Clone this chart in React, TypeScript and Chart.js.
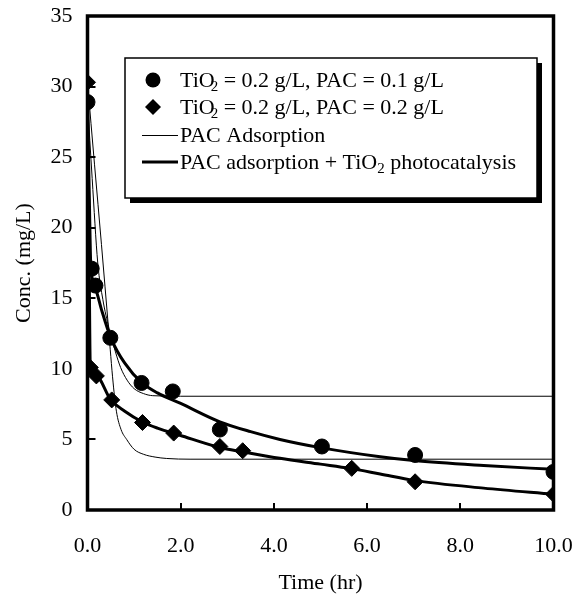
import React, { useEffect, useRef } from "react";
import { Chart, registerables } from "chart.js";

Chart.register(...registerables);

// ---- data ----
const circleTime = [0, 0.09, 0.17, 0.49, 1.16, 1.83, 2.84, 5.03, 7.03, 10.0];
const circleConc = [28.9, 17.1, 15.9, 12.2, 9.0, 8.4, 5.7, 4.5, 3.9, 2.7];

const diamondTime = [0, 0.06, 0.19, 0.52, 1.18, 1.85, 2.84, 3.33, 5.67, 7.03, 10.0];
const diamondConc = [30.3, 10.1, 9.5, 7.8, 6.2, 5.45, 4.5, 4.2, 2.95, 2.0, 1.12];

// PAC adsorption (thin) curves
const adsA_Time = [0, 0.1, 0.22, 0.33, 0.46, 0.6, 0.71, 0.85, 1.0, 1.2, 1.4, 2.0, 10.0];
const adsA_Conc = [28.9, 23.5, 17.5, 14.9, 12.9, 11.2, 10.1, 9.2, 8.6, 8.25, 8.1, 8.06, 8.06];

const adsB_Time = [0, 0.15, 0.3, 0.45, 0.55, 0.62, 0.72, 0.84, 1.0, 1.2, 1.45, 1.7, 2.2, 10.0];
const adsB_Conc = [30.3, 24.5, 18.8, 12.9, 9.0, 7.0, 5.7, 5.0, 4.3, 3.95, 3.75, 3.65, 3.6, 3.6];

// PAC adsorption + TiO2 photocatalysis (thick) curves
const photoA_Time = [0, 0.04, 0.07, 0.18, 0.3, 0.5, 0.8, 1.17, 1.5, 2.0, 2.84, 3.5, 4.13, 5.0, 6.28, 7.0, 8.5, 10.0];
const photoA_Conc = [28.9, 22.0, 17.4, 15.6, 14.2, 12.2, 10.4, 9.0, 8.3, 7.55, 6.25, 5.55, 5.0, 4.42, 3.77, 3.5, 3.15, 2.88];

const photoB_Time = [0, 0.03, 0.06, 0.18, 0.5, 0.8, 1.17, 1.5, 1.98, 2.84, 3.34, 4.13, 5.0, 5.63, 6.28, 7.0, 8.5, 10.0];
const photoB_Conc = [30.3, 20.0, 10.2, 9.55, 7.8, 7.0, 6.25, 5.8, 5.3, 4.43, 4.12, 3.66, 3.25, 2.95, 2.55, 2.1, 1.55, 1.12];

const xTicks = [0, 2, 4, 6, 8, 10];
const yTicks = [0, 5, 10, 15, 20, 25, 30, 35];

const legendLabels = [
  ["TiO", "2", " = 0.2 g/L, PAC = 0.1 g/L"],
  ["TiO", "2", " = 0.2 g/L, PAC = 0.2 g/L"],
  ["PAC Adsorption", "", ""],
  ["PAC adsorption + TiO", "2", " photocatalysis"],
];

const xTitle = "Time (hr)";
const yTitle = "Conc. (mg/L)";

const pts = (xs: number[], ys: number[]) => xs.map((x, i) => ({ x, y: ys[i] }));

const FONT = "'Liberation Serif', 'Times New Roman', serif";

const framePlugin = {
  id: "frameAndLegend",
  afterDraw(chart: any) {
    const ctx = chart.ctx as CanvasRenderingContext2D;
    const { left, right, top, bottom } = chart.chartArea;
    const xs = chart.scales.x;
    const ys = chart.scales.y;
    ctx.save();
    ctx.strokeStyle = "#000";
    // inward ticks
    ctx.lineWidth = 2;
    ctx.beginPath();
    yTicks.forEach((v) => {
      if (v <= 0 || v >= 35) return;
      const py = Math.round(ys.getPixelForValue(v));
      ctx.moveTo(left, py);
      ctx.lineTo(left + 8, py);
    });
    xTicks.forEach((v) => {
      if (v <= 0 || v >= 10) return;
      const px = Math.round(xs.getPixelForValue(v));
      ctx.moveTo(px, bottom);
      ctx.lineTo(px, bottom - 7);
    });
    ctx.stroke();
    // frame
    ctx.lineWidth = 3.5;
    ctx.strokeRect(left, top, right - left, bottom - top);

    // legend box
    const bx = 125, by = 58, bw = 412, bh = 140;
    ctx.fillStyle = "#000";
    ctx.fillRect(bx + 5, by + 5, bw, bh);
    ctx.fillStyle = "#fff";
    ctx.fillRect(bx, by, bw, bh);
    ctx.lineWidth = 1.5;
    ctx.strokeRect(bx, by, bw, bh);

    const rowsY = [80, 107, 135, 162];
    const mx = 153;
    // circle marker
    ctx.fillStyle = "#000";
    ctx.beginPath();
    ctx.arc(mx, rowsY[0], 7.5, 0, Math.PI * 2);
    ctx.fill();
    // diamond marker
    ctx.beginPath();
    ctx.moveTo(mx, rowsY[1] - 8);
    ctx.lineTo(mx + 8, rowsY[1]);
    ctx.lineTo(mx, rowsY[1] + 8);
    ctx.lineTo(mx - 8, rowsY[1]);
    ctx.closePath();
    ctx.fill();
    // thin line
    ctx.lineWidth = 1;
    ctx.beginPath();
    ctx.moveTo(142, rowsY[2] + 0.5);
    ctx.lineTo(178, rowsY[2] + 0.5);
    ctx.stroke();
    ctx.lineWidth = 3;
    ctx.beginPath();
    ctx.moveTo(142, rowsY[3]);
    ctx.lineTo(178, rowsY[3]);
    ctx.stroke();

    // legend text
    ctx.textBaseline = "alphabetic";
    ctx.textAlign = "left";
    legendLabels.forEach((parts, i) => {
      const baseY = rowsY[i] + 7;
      let x = 180;
      ctx.font = `22px ${FONT}`;
      ctx.fillText(parts[0], x, baseY);
      x += ctx.measureText(parts[0]).width;
      if (parts[1]) {
        ctx.font = `15px ${FONT}`;
        const sx = i < 2 ? x - 4 : x;
        ctx.fillText(parts[1], sx, baseY + 4);
        x = sx + ctx.measureText(parts[1]).width;
        ctx.font = `22px ${FONT}`;
        ctx.fillText(parts[2], x, baseY);
      }
    });
    ctx.restore();
  },
};

export default function App() {
  const ref = useRef<HTMLCanvasElement | null>(null);
  useEffect(() => {
    document.body.style.margin = "0";
    const canvas = ref.current!;
    const thin = { borderColor: "#000", borderWidth: 1, pointRadius: 0, showLine: true, cubicInterpolationMode: "monotone" as const, fill: false };
    const thick = { borderColor: "#000", borderWidth: 3, pointRadius: 0, showLine: true, cubicInterpolationMode: "monotone" as const, fill: false };
    const chart = new Chart(canvas, {
      type: "scatter",
      data: {
        datasets: [
          { label: "TiO2 = 0.2 g/L, PAC = 0.1 g/L", data: pts(circleTime, circleConc), pointStyle: "circle", pointRadius: 7.5, backgroundColor: "#000", borderColor: "#000", showLine: false },
          { label: "TiO2 = 0.2 g/L, PAC = 0.2 g/L", data: pts(diamondTime, diamondConc), pointStyle: "rectRot", pointRadius: 8, backgroundColor: "#000", borderColor: "#000", showLine: false },
          { label: "PAC Adsorption", data: pts(adsA_Time, adsA_Conc), ...thin },
          { label: "PAC Adsorption (0.2)", data: pts(adsB_Time, adsB_Conc), ...thin },
          { label: "PAC adsorption + TiO2 photocatalysis", data: pts(photoA_Time, photoA_Conc), ...thick },
          { label: "PAC adsorption + TiO2 photocatalysis (0.2)", data: pts(photoB_Time, photoB_Conc), ...thick },
        ] as any,
      },
      options: {
        responsive: false,
        animation: false,
        layout: { padding: { top: 16, right: 30.5, left: 0, bottom: 0 } },
        plugins: { legend: { display: false }, tooltip: { enabled: false } },
        scales: {
          x: {
            type: "linear",
            min: 0,
            max: 10,
            afterBuildTicks: (s: any) => { s.ticks = xTicks.map((v) => ({ value: v })); },
            afterFit: (s: any) => { s.height = 89; s.paddingLeft = 0; s.paddingRight = 0; },
            grid: { display: false, drawTicks: false },
            border: { display: false },
            ticks: { color: "#000", font: { family: FONT, size: 22 }, padding: 23, maxRotation: 0, callback: (v: any) => Number(v).toFixed(1) },
            title: { display: true, text: xTitle, color: "#000", font: { family: FONT, size: 22 }, padding: { top: 3, bottom: 3 } },
          },
          y: {
            type: "linear",
            min: 0,
            max: 35,
            afterBuildTicks: (s: any) => { s.ticks = yTicks.map((v) => ({ value: v })); },
            afterFit: (s: any) => { s.width = 87.5; s.paddingTop = 0; s.paddingBottom = 0; },
            grid: { display: false, drawTicks: false },
            border: { display: false },
            ticks: { color: "#000", font: { family: FONT, size: 22 }, padding: 15, callback: (v: any) => String(v) },
            title: { display: true, text: yTitle, color: "#000", font: { family: FONT, size: 22 }, padding: { top: 11, bottom: 11 } },
          },
        },
      },
      plugins: [framePlugin],
    });
    return () => chart.destroy();
  }, []);
  return <canvas ref={ref} width={584} height={599} style={{ display: "block" }} />;
}
